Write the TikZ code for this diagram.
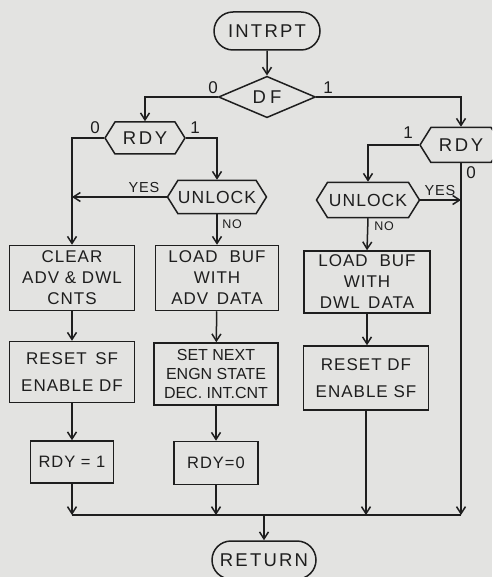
\documentclass[tikz,border=0pt]{standalone}
\usepackage{fontspec}
\setmainfont[LetterSpace=6]{Liberation Sans}
\usetikzlibrary{shapes.misc,shapes.geometric,shapes.symbols,arrows.meta}
\definecolor{bg}{HTML}{E3E3E1}
\definecolor{ink}{HTML}{1E1E1E}
\tikzset{
  every node/.style={text=ink},
  term/.style={rounded rectangle, draw=ink, minimum width=106pt, minimum height=38pt, inner sep=0pt, font=\fontsize{18.5}{20}\selectfont\addfontfeature{LetterSpace=12}},
  dec/.style={diamond, draw=ink, minimum width=97pt, minimum height=33pt, inner sep=0pt, font=\fontsize{18.5}{20}\selectfont\addfontfeature{LetterSpace=22}},
  hexa/.style={signal, signal to=west and east, signal pointer angle=116, draw=ink, inner sep=0pt, font=\fontsize{17.5}{20}\selectfont},
  proc/.style={rectangle, draw=ink, align=center, inner sep=0pt, font=\fontsize{17}{21}\selectfont},
  lbl/.style={font=\fontsize{14.5}{16}\selectfont},
  sml/.style={font=\fontsize{12.5}{14}\selectfont},
  dig/.style={font=\fontsize{17}{18}\selectfont},
  arr/.style={-{Straight Barb[length=7pt,width=9pt]}},
}
\begin{document}
\begin{tikzpicture}[x=1pt,y=-1pt,line width=1.5pt,draw=ink]
\fill[bg] (0,0) rectangle (492,577);
\useasboundingbox (0,0) rectangle (492,577);
\clip (0,0) rectangle (492,577);
% nodes
\node[term] (intr) at (267,31) {INTRPT};
\node[dec] (df) at (267,97) {DF};
\node[hexa, minimum width=80pt, minimum height=32pt, font=\fontsize{18.5}{20}\selectfont\addfontfeature{LetterSpace=14}] (rdyL) at (145,138) {RDY};
\node[hexa, minimum width=99pt, minimum height=33pt] (unlL) at (217,197) {UNLOCK};
\node[hexa, minimum width=82pt, minimum height=35pt, font=\fontsize{18.5}{20}\selectfont\addfontfeature{LetterSpace=14}] (rdyR) at (461,145) {RDY};
\node[hexa, minimum width=103pt, minimum height=35pt] (unlR) at (368,200) {UNLOCK};
\node[proc, minimum width=125pt, minimum height=65pt] (clear) at (72,278) {CLEAR\\ADV \& DWL\\CNTS};
\node[proc, minimum width=123pt, minimum height=65pt] (loadA) at (217,278) {LOAD\hspace{0.7em}BUF\\WITH\\ADV\hspace{0.5em}DATA};
\node[proc, minimum width=126pt, minimum height=62pt] (loadD) at (367,282) {LOAD\hspace{0.7em}BUF\\WITH\\DWL\hspace{0.5em}DATA};
\node[proc, minimum width=125pt, minimum height=61pt, font=\fontsize{17}{27}\selectfont] (resetS) at (72,372) {RESET\hspace{0.5em}SF\\ENABLE DF};
\node[proc, minimum width=124pt, minimum height=62pt, font=\fontsize{16}{19}\selectfont\addfontfeature{LetterSpace=0}] (setN) at (216,374) {SET NEXT\\ENGN STATE\\DEC. INT.CNT};
\node[proc, minimum width=125pt, minimum height=64pt, font=\fontsize{17}{27}\selectfont] (resetD) at (366,378) {RESET DF\\ENABLE SF};
\node[proc, minimum width=83pt, minimum height=42pt, font=\fontsize{16.5}{20}\selectfont] (rdy1) at (72,462) {RDY = 1};
\node[proc, minimum width=84pt, minimum height=43pt, font=\fontsize{16.5}{20}\selectfont] (rdy0) at (216,463) {RDY=0};
\node[term, minimum width=104pt] (ret) at (264,560) {RETURN};
\coordinate (mL) at (72,515);
\coordinate (mR) at (461,515);
\coordinate (mC) at (264,515);
% connectors
\draw[arr] (intr) -- (df);
\draw[arr] (df.west) -| (rdyL.north);
\draw[arr] (df.east) -| (rdyR.north);
\draw[arr] (rdyL.west) -| (clear.north);
\draw[arr] (rdyL.east) -| (unlL.north);
\draw[arr] (unlL.west) -- (unlL.west -| clear.north);
\draw[arr] (unlL.south) -- (loadA.north);
\draw[arr] (rdyR.west) -| (unlR.north);
\draw[arr] (unlR.east) -- (unlR.east -| rdyR.south);
\draw[arr] (unlR.south) -- (loadD.north);
\draw[arr] (clear) -- (resetS);
\draw[arr] (loadA) -- (setN);
\draw[arr] (loadD.south) -- (resetD.north -| loadD.south);
\draw[arr] (resetS) -- (rdy1);
\draw[arr] (setN) -- (rdy0);
\draw[arr] (rdy1.south) -- (rdy1.south |- mL);
\draw[arr] (rdy0.south) -- (rdy0.south |- mL);
\draw[arr] (resetD.south) -- (resetD.south |- mL);
\draw[arr] (rdyR.south) -- (mR);
\draw (mL) -- (mR);
\draw[arr] (mC) -- (ret.north);
% labels
\node[dig] (l0a) at (213,88) {0};
\node[dig] (l1a) at (328,88) {1};
\node[dig] (l0b) at (95,128) {0};
\node[dig] (l1b) at (195,128) {1};
\node[lbl] (ly1) at (144,188) {YES};
\node[sml] (ln1) at (232,224) {NO};
\node[dig] (l1c) at (408,133) {1};
\node[dig] (l0c) at (471,173) {0};
\node[lbl] (ly2) at (440,191) {YES};
\node[sml] (ln2) at (384,226) {NO};
\end{tikzpicture}
\end{document}
